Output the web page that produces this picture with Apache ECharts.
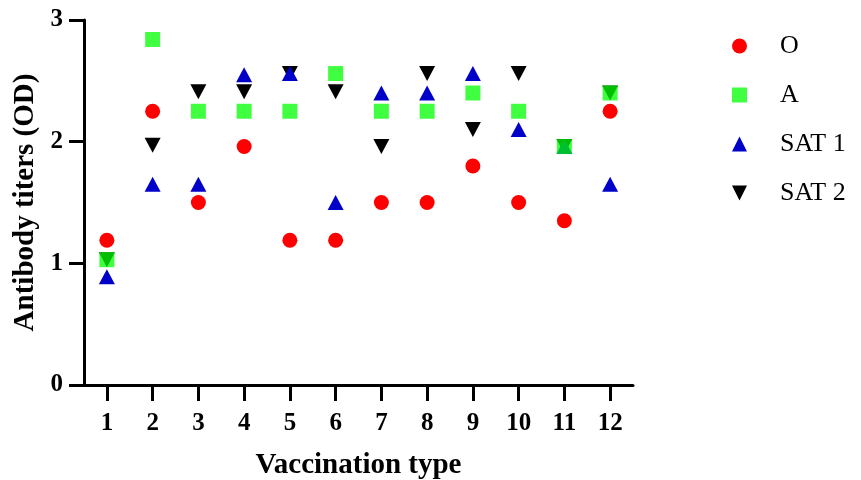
<!DOCTYPE html>
<html>
<head>
<meta charset="utf-8">
<script src="https://cdn.jsdelivr.net/npm/echarts@6/dist/echarts.min.js"></script>
<style>html,body{margin:0;padding:0;background:#fff}#c{width:861px;height:480px}</style>
</head>
<body>
<div id="c"></div>
<script>
var categories = ['1','2','3','4','5','6','7','8','9','10','11','12'];
var yTicks = [0, 1, 2, 3];
var seriesNames = ['O', 'A', 'SAT 1', 'SAT 2'];
var valuesO    = [1.19, 2.25, 1.50, 1.96, 1.19, 1.19, 1.50, 1.50, 1.80, 1.50, 1.35, 2.25];
var valuesA    = [1.03, 2.84, 2.25, 2.25, 2.25, 2.56, 2.25, 2.25, 2.40, 2.25, 1.96, 2.40];
var valuesSAT1 = [0.89, 1.65, 1.65, 2.55, 2.56, 1.50, 2.40, 2.40, 2.56, 2.10, 1.96, 1.65];
var valuesSAT2 = [1.03, 1.97, 2.41, 2.41, 2.56, 2.41, 1.96, 2.56, 2.10, 2.56, 1.96, 2.40];

var FONT = "'Liberation Serif', 'Times New Roman', serif";
var chart = echarts.init(document.getElementById('c'), null, {renderer: 'canvas'});
var downTri = 'path://M0,0L2,0L1,2Z';

chart.setOption({
  animation: false,
  backgroundColor: '#fff',
  grid: {left: 84, right: 228, top: 20, bottom: 95, containLabel: false, outerBoundsMode: 'none'},
  legend: {
    orient: 'vertical',
    left: 732,
    top: 33,
    padding: 0,
    itemWidth: 15,
    itemHeight: 15,
    itemGap: 23,
    data: [
      {name: 'O', icon: 'circle'},
      {name: 'A', icon: 'rect'},
      {name: 'SAT 1', icon: 'triangle'},
      {name: 'SAT 2', icon: downTri}
    ],
    textStyle: {fontFamily: FONT, fontSize: 26, color: '#000', lineHeight: 26, padding: [0, 0, 0, 28]}
  },
  xAxis: {
    type: 'category',
    data: categories,
    boundaryGap: true,
    name: 'Vaccination type',
    nameLocation: 'middle',
    nameGap: 66,
    nameTextStyle: {fontFamily: FONT, fontSize: 29, fontWeight: 'bold', color: '#000'},
    axisLine: {show: true, lineStyle: {color: '#000', width: 3}},
    axisTick: {show: true, alignWithLabel: true, length: 16, lineStyle: {color: '#000', width: 3}},
    axisLabel: {fontFamily: FONT, fontSize: 25, fontWeight: 'bold', color: '#000', margin: 26},
    splitLine: {show: false}
  },
  yAxis: {
    type: 'value',
    min: yTicks[0],
    max: yTicks[yTicks.length - 1],
    interval: 1,
    name: 'Antibody titers (OD)',
    nameLocation: 'middle',
    nameGap: 43,
    nameTextStyle: {fontFamily: FONT, fontSize: 29, fontWeight: 'bold', color: '#000'},
    axisLine: {show: true, lineStyle: {color: '#000', width: 3}},
    axisTick: {show: true, length: 15, lineStyle: {color: '#000', width: 3}},
    axisLabel: {fontFamily: FONT, fontSize: 25, fontWeight: 'bold', color: '#000', margin: 21},
    splitLine: {show: false}
  },
  series: [
    {name: 'O', type: 'scatter', data: valuesO, symbol: 'circle', symbolSize: 15, z: 2,
     itemStyle: {color: '#ff0000', opacity: 1}},
    {name: 'A', type: 'scatter', data: valuesA, symbol: 'rect', symbolSize: 15, z: 5,
     itemStyle: {color: '#00ff00', opacity: 0.75}},
    {name: 'SAT 1', type: 'scatter', data: valuesSAT1, symbol: 'triangle', symbolSize: [16, 15], z: 4,
     itemStyle: {color: '#0000c8', opacity: 1}},
    {name: 'SAT 2', type: 'scatter', data: valuesSAT2, symbol: downTri, symbolSize: [16, 15], z: 3,
     itemStyle: {color: '#000000', opacity: 1}}
  ]
});
</script>
</body>
</html>
